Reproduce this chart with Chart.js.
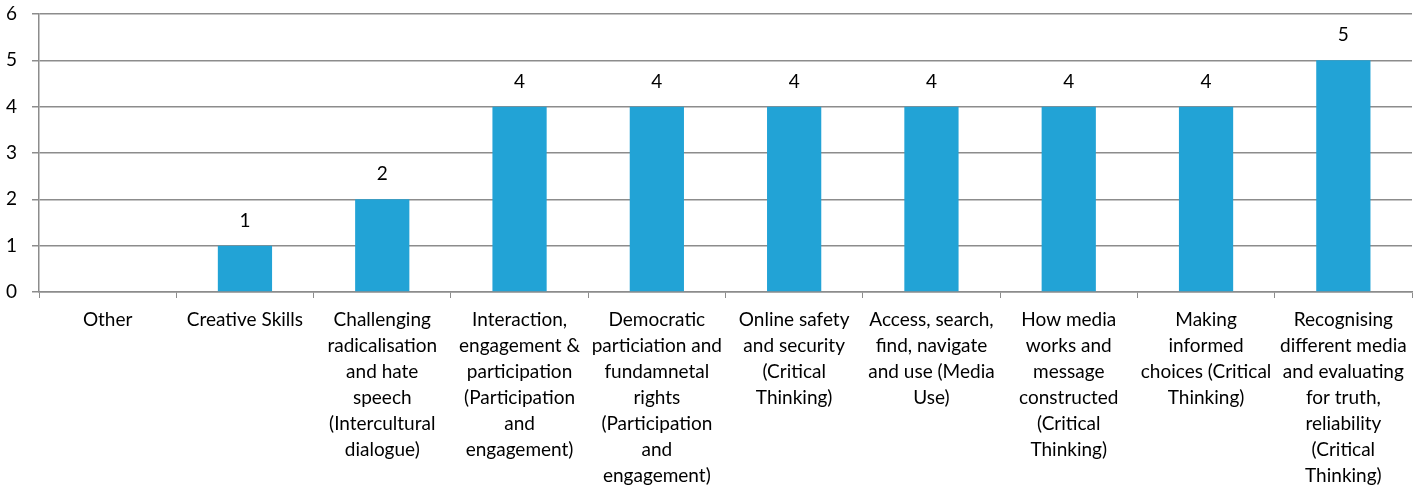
<!DOCTYPE html>
<html>
<head>
<meta charset="utf-8">
<script src="https://cdn.jsdelivr.net/npm/chart.js@4/dist/chart.umd.min.js"></script>
<style>
  html, body { margin: 0; padding: 0; background: #fff; }
  #wrap { width: 1425px; height: 488px; }
</style>
</head>
<body>
<div id="wrap"><canvas id="skills"></canvas></div>
<script>
// categories (pre-wrapped as they appear under the axis)
var categories = [
    ["Other"],
    ["Creative Skills"],
    ["Challenging", "radicalisation", "and hate", "speech", "(Intercultural", "dialogue)"],
    ["Interaction,", "engagement &", "participation", "(Participation", "and", "engagement)"],
    ["Democratic", "particiation and", "fundamnetal", "rights", "(Participation", "and", "engagement)"],
    ["Online safety", "and security", "(Critical", "Thinking)"],
    ["Access, search,", "find, navigate", "and use (Media", "Use)"],
    ["How media", "works and", "message", "constructed", "(Critical", "Thinking)"],
    ["Making", "informed", "choices (Critical", "Thinking)"],
    ["Recognising", "different media", "and evaluating", "for truth,", "reliability", "(Critical", "Thinking)"]
];
var counts = [0, 1, 2, 4, 4, 4, 4, 4, 4, 5];
var yTicks = [0, 1, 2, 3, 4, 5, 6];

var FONT = "Lato, 'Open Sans', sans-serif";

// number above each bar
var barValues = {
    id: "barValues",
    afterDatasetsDraw: function(chart) {
        var ctx = chart.ctx;
        var meta = chart.getDatasetMeta(0);
        ctx.save();
        ctx.font = "19px " + FONT;
        ctx.fillStyle = "#000";
        ctx.textAlign = "center";
        ctx.textBaseline = "middle";
        meta.data.forEach(function(bar, i) {
            var v = chart.data.datasets[0].data[i];
            if (!v) return;
            ctx.fillText(String(v), bar.x, bar.y - 25);
        });
        ctx.restore();
    }
};

new Chart("skills", {
    type: "bar",
    data: {
        labels: categories,
        datasets: [{
            data: counts,
            backgroundColor: "#22A3D6",
            categoryPercentage: 1,
            barPercentage: 0.395
        }]
    },
    options: {
        responsive: true,
        maintainAspectRatio: false,
        animation: false,
        layout: { padding: { top: 14, right: 13, left: 0, bottom: 0 } },
        plugins: {
            legend: { display: false },
            tooltip: { enabled: false }
        },
        scales: {
            x: {
                grid: {
                    offset: true,
                    drawOnChartArea: false,
                    drawTicks: true,
                    tickLength: 6,
                    color: "#8c8c8c",
                    lineWidth: 1
                },
                border: { color: "#8c8c8c", width: 1.5 },
                ticks: {
                    color: "#000",
                    font: { family: FONT, size: 19, lineHeight: 1.37 },
                    maxRotation: 0,
                    autoSkip: false,
                    padding: 9
                },
                afterFit: function(scale) { scale.height = 196; }
            },
            y: {
                min: 0,
                max: 6,
                afterBuildTicks: function(scale) {
                    scale.ticks = yTicks.map(function(v) { return { value: v }; });
                },
                grid: {
                    color: "#8c8c8c",
                    lineWidth: 1.5,
                    drawTicks: true,
                    tickLength: 7
                },
                border: { color: "#8c8c8c", width: 1.5 },
                ticks: {
                    color: "#000",
                    font: { family: FONT, size: 19 },
                    padding: 15
                },
                afterFit: function(scale) {
                    scale.width = 39;
                    scale.paddingTop = 0;
                    scale.paddingBottom = 0;
                }
            }
        }
    },
    plugins: [barValues]
});
</script>
</body>
</html>
